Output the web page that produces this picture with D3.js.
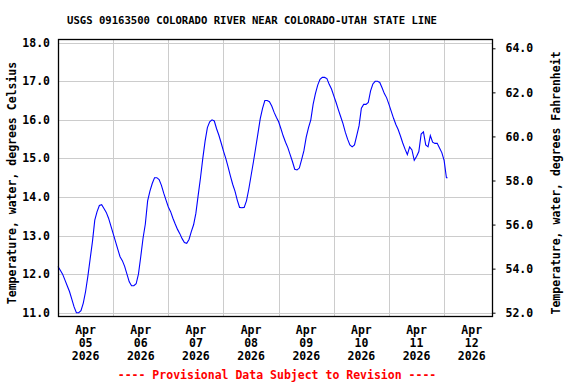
<!DOCTYPE html>
<html>
<head>
<meta charset="utf-8">
<script src="https://cdn.jsdelivr.net/npm/d3@7"></script>
<style>
  body { margin: 0; background: #fff; }
  text { font-family: "DejaVu Sans Mono", monospace; font-weight: bold; }
</style>
</head>
<body>
<script>
// hourly water temperature, starting Apr 05 2026 00:00 (deg C)
const startTime = new Date(2026, 3, 5, 0, 0);
const tempC = [
  12.2, 12.1, 12.0, 11.85, 11.7, 11.55, 11.35, 11.15, 11.0, 11.0,
  11.05, 11.25, 11.55, 11.95, 12.4, 12.85, 13.4, 13.62, 13.78, 13.8,
  13.7, 13.6, 13.45, 13.25, 13.05, 12.85, 12.65, 12.45, 12.35, 12.2,
  12.0, 11.8, 11.7, 11.7, 11.75, 12.0, 12.45, 12.93, 13.3, 13.9,
  14.15, 14.35, 14.5, 14.5, 14.45, 14.3, 14.1, 13.92, 13.74, 13.62,
  13.45, 13.3, 13.16, 13.05, 12.92, 12.82, 12.8, 12.9, 13.1, 13.28,
  13.58, 14.05, 14.5, 15.0, 15.45, 15.8, 15.95, 16.0, 15.97, 15.77,
  15.6, 15.4, 15.19, 15.0, 14.78, 14.55, 14.33, 14.15, 13.92, 13.73,
  13.72, 13.73, 13.9, 14.2, 14.55, 14.9, 15.27, 15.65, 16.03, 16.3,
  16.5, 16.5, 16.47, 16.36, 16.2, 16.07, 15.95, 15.77, 15.58, 15.42,
  15.28, 15.1, 14.92, 14.72, 14.7, 14.75, 14.97, 15.2, 15.55, 15.8,
  16.0, 16.4, 16.68, 16.9, 17.05, 17.1, 17.1, 17.07, 16.92, 16.8,
  16.62, 16.45, 16.26, 16.08, 15.9, 15.68, 15.5, 15.35, 15.3, 15.35,
  15.6, 15.85, 16.3, 16.4, 16.4, 16.45, 16.75, 16.93, 17.0, 17.0,
  16.97, 16.83, 16.68, 16.57, 16.4, 16.22, 16.04, 15.88, 15.75, 15.58,
  15.4, 15.24, 15.1, 15.3, 15.22, 14.95, 15.05, 15.18, 15.63, 15.69,
  15.35, 15.3, 15.59, 15.42, 15.39, 15.39, 15.27, 15.15, 14.95, 14.5,
  14.5
];

const celsiusTicks = [11, 12, 13, 14, 15, 16, 17, 18];
const fahrenheitTicks = [52, 54, 56, 58, 60, 62, 64];
const dayLabels = ["05", "06", "07", "08", "09", "10", "11", "12"];
const monthLabel = "Apr";
const yearLabel = "2026";

const title = "USGS 09163500 COLORADO RIVER NEAR COLORADO-UTAH STATE LINE";
const leftLabel = "Temperature, water, degrees Celsius";
const rightLabel = "Temperature, water, degrees Fahrenheit";
const footer = "---- Provisional Data Subject to Revision ----";

const data = tempC.map((v, i) => ({
  t: d3.timeMinute.offset(startTime, i === tempC.length - 1 ? (i - 1) * 60 + 30 : i * 60),
  v: v
}));

const W = 576, H = 384;
const plotL = 58, plotR = 492, plotT = 39, plotB = 316;

const svg = d3.select("body").append("svg")
  .attr("width", W).attr("height", H);

const x = d3.scaleTime()
  .domain([startTime, d3.timeMinute.offset(startTime, 7 * 1440 + 20 * 60 + 50)])
  .range([plotL, plotR]);
const y = d3.scaleLinear().domain([11, 18]).range([312.7, 42.7]);
const yF = d3.scaleLinear().domain([52, 64]).range([312.7, 48.3]);

// grid
const days = dayLabels.map((d, i) => d3.timeDay.offset(startTime, i));
svg.append("g").selectAll("line")
  .data(days.slice(1))
  .join("line")
  .attr("x1", d => Math.round(x(d)) + 0.5).attr("x2", d => Math.round(x(d)) + 0.5)
  .attr("y1", plotT).attr("y2", plotB)
  .attr("stroke", "#cccccc").attr("stroke-width", 1);
svg.append("g").selectAll("line")
  .data(celsiusTicks)
  .join("line")
  .attr("x1", plotL).attr("x2", plotR)
  .attr("y1", d => Math.round(y(d)) + 0.5).attr("y2", d => Math.round(y(d)) + 0.5)
  .attr("stroke", "#cccccc").attr("stroke-width", 1);

// data line
const line = d3.line().x(d => x(d.t)).y(d => y(d.v));
svg.append("path")
  .datum(data)
  .attr("d", line)
  .attr("fill", "none")
  .attr("stroke", "#0000ff")
  .attr("stroke-width", 1.1);

// frame
svg.append("rect")
  .attr("x", plotL + 0.5).attr("y", plotT + 0.5)
  .attr("width", plotR - plotL).attr("height", plotB - plotT)
  .attr("fill", "none").attr("stroke", "#000").attr("stroke-width", 1.3);

// left axis labels
svg.append("g").selectAll("text")
  .data(celsiusTicks)
  .join("text")
  .attr("x", 50).attr("y", d => y(d))
  .attr("dy", "0.35em")
  .attr("text-anchor", "end")
  .attr("font-size", 11.5)
  .text(d3.format(".1f"));

// right axis
const rAxis = svg.append("g")
  .attr("transform", `translate(${plotR + 0.5},0)`)
  .call(d3.axisRight(yF).tickValues(fahrenheitTicks).tickSize(3).tickPadding(10).tickFormat(d3.format(".1f")));
rAxis.select(".domain").remove();
rAxis.selectAll("line").attr("stroke", "#000");
rAxis.selectAll("text")
  .attr("font-size", 11.5)
  .attr("font-family", "DejaVu Sans Mono, monospace")
  .attr("font-weight", "bold")
  .attr("fill", "#000");

// bottom date labels at noon
const dl = svg.append("g").selectAll("g")
  .data(days)
  .join("g")
  .attr("transform", d => `translate(${x(d3.timeHour.offset(d, 12))},0)`);
[[monthLabel, 334], [null, 347], [yearLabel, 360]].forEach(([txt, yy], k) => {
  dl.append("text")
    .attr("y", yy)
    .attr("text-anchor", "middle")
    .attr("font-size", 11.5)
    .text((d, i) => k === 1 ? dayLabels[i] : txt);
});

// titles
svg.append("text")
  .attr("x", 252).attr("y", 24)
  .attr("text-anchor", "middle")
  .attr("font-size", 10.6)
  .text(title);

svg.append("text")
  .attr("transform", "translate(16,183) rotate(-90)")
  .attr("text-anchor", "middle")
  .attr("font-size", 11.5)
  .text(leftLabel);

svg.append("text")
  .attr("transform", "translate(560,183) rotate(-90)")
  .attr("text-anchor", "middle")
  .attr("font-size", 11.5)
  .text(rightLabel);

svg.append("text")
  .attr("x", 277).attr("y", 379)
  .attr("text-anchor", "middle")
  .attr("font-size", 11.5)
  .attr("fill", "#ff0000")
  .text(footer);
</script>
</body>
</html>
